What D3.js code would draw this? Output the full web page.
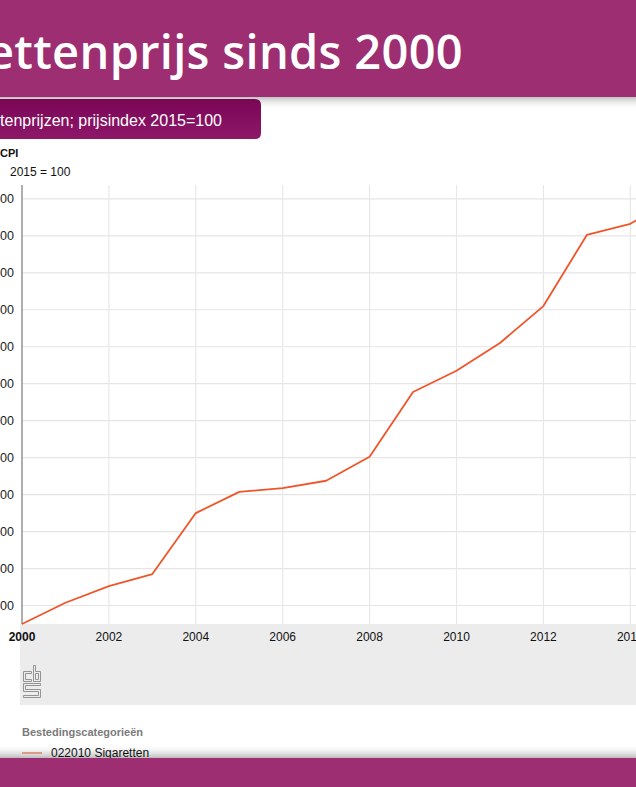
<!DOCTYPE html>
<html>
<head>
<meta charset="utf-8">
<script src="https://cdn.jsdelivr.net/npm/d3@7"></script>
<style>
  html, body { margin: 0; padding: 0; background: #fff; overflow: hidden; }
  svg { display: block; }
</style>
</head>
<body>
<svg id="chart" width="636" height="787"></svg>
<script>
// data (CPI cigarettes, 2015 = 100)
const years = [2000, 2001, 2002, 2003, 2004, 2005, 2006, 2007, 2008, 2009, 2010, 2011, 2012, 2013, 2014, 2015];
const cigarettes = [54.0, 56.3, 58.1, 59.4, 66.0, 68.3, 68.7, 69.5, 72.1, 79.1, 81.4, 84.4, 88.4, 96.1, 97.3, 100.0];
const yTicks = [56, 60, 64, 68, 72, 76, 80, 84, 88, 92, 96, 100];
const xTicks = [2000, 2002, 2004, 2006, 2008, 2010, 2012, 2014];

const titleText = 'Sigarettenprijs sinds 2000';
const subtitleText = 'Consumentenprijzen; prijsindex 2015=100';
const legendTitle = 'Bestedingscategorieën';
const seriesName = '022010 Sigaretten';

const W = 636, H = 787;
const svg = d3.select('#chart');
const defs = svg.append('defs');

// shadows under the banner and above the footer
const shadowTop = defs.append('linearGradient').attr('id', 'shadowTop')
  .attr('x1', 0).attr('y1', 0).attr('x2', 0).attr('y2', 1);
shadowTop.append('stop').attr('offset', 0).attr('stop-color', '#999').attr('stop-opacity', 0.7);
shadowTop.append('stop').attr('offset', 1).attr('stop-color', '#fff').attr('stop-opacity', 0);

const shadowBottom = defs.append('linearGradient').attr('id', 'shadowBottom')
  .attr('x1', 0).attr('y1', 0).attr('x2', 0).attr('y2', 1);
shadowBottom.append('stop').attr('offset', 0).attr('stop-color', '#fff').attr('stop-opacity', 0);
shadowBottom.append('stop').attr('offset', 1).attr('stop-color', '#aaa').attr('stop-opacity', 0.8);

const subGrad = defs.append('linearGradient').attr('id', 'subGrad')
  .attr('x1', 0).attr('y1', 0).attr('x2', 0).attr('y2', 1);
subGrad.append('stop').attr('offset', 0).attr('stop-color', '#7a0656');
subGrad.append('stop').attr('offset', 1).attr('stop-color', '#8e1768');

// chart area
const margin = { left: 22, top: 185, bottom: 624 };
const x = d3.scaleLinear().domain([2000, 2001]).range([margin.left, margin.left + 43.45]);
const y = d3.scaleLinear().domain([54, 101.5]).range([margin.bottom, margin.top]);

const nl = d3.formatLocale({ decimal: ',', thousands: '.', grouping: [3], currency: ['€', ''] });
const fmt = nl.format('.2f');

// grey band under the plot
svg.append('rect')
  .attr('x', 20).attr('y', margin.bottom)
  .attr('width', W - 20).attr('height', 705 - margin.bottom)
  .attr('fill', '#ececec');

// horizontal gridlines
svg.append('g')
  .selectAll('line')
  .data(yTicks)
  .join('line')
  .attr('x1', margin.left).attr('x2', W)
  .attr('y1', d => y(d)).attr('y2', d => y(d))
  .attr('stroke', '#e5e5e5').attr('stroke-width', 1.2);

// vertical gridlines
svg.append('g')
  .selectAll('line')
  .data(xTicks.slice(1))
  .join('line')
  .attr('x1', d => x(d)).attr('x2', d => x(d))
  .attr('y1', margin.top).attr('y2', margin.bottom)
  .attr('stroke', '#e8e8e8').attr('stroke-width', 1.2);

// y tick labels
svg.append('g')
  .selectAll('text')
  .data(yTicks)
  .join('text')
  .attr('x', 14).attr('y', d => y(d) + 4)
  .attr('text-anchor', 'end')
  .attr('font-family', 'Liberation Sans, Arial, sans-serif')
  .attr('font-size', 12.5)
  .attr('fill', '#222')
  .text(d => fmt(d));

// y axis line
svg.append('line')
  .attr('x1', margin.left).attr('x2', margin.left)
  .attr('y1', margin.top).attr('y2', margin.bottom)
  .attr('stroke', '#9a9a9a').attr('stroke-width', 1.6);

// x tick labels
svg.append('g')
  .selectAll('text')
  .data(xTicks)
  .join('text')
  .attr('x', d => x(d)).attr('y', 641)
  .attr('text-anchor', 'middle')
  .attr('font-family', 'Liberation Sans, Arial, sans-serif')
  .attr('font-size', 12)
  .attr('font-weight', (d, i) => i === 0 ? 'bold' : 'normal')
  .attr('fill', '#111')
  .text(d => d);

// the series line
const line = d3.line()
  .x((d, i) => x(years[i]))
  .y(d => y(d));

svg.append('path')
  .datum(cigarettes)
  .attr('d', line)
  .attr('fill', 'none')
  .attr('stroke', '#f0552a')
  .attr('stroke-width', 1.8)
  .attr('stroke-linejoin', 'round');

// axis captions
svg.append('text')
  .attr('x', 0).attr('y', 157)
  .attr('font-family', 'Liberation Sans, Arial, sans-serif')
  .attr('font-size', 11).attr('font-weight', 'bold')
  .attr('fill', '#111')
  .text('CPI');

svg.append('text')
  .attr('x', 10).attr('y', 176)
  .attr('font-family', 'Liberation Sans, Arial, sans-serif')
  .attr('font-size', 12)
  .attr('fill', '#111')
  .text('2015 = 100');

// cbs logo (outline drawing)
const logo = svg.append('g')
  .attr('transform', 'translate(23.5,665.5)')
  .attr('fill', 'none')
  .attr('stroke', '#8a8a8a')
  .attr('stroke-width', 0.9);
logo.append('path').attr('d', 'M0,6 H8 V8 H2 V14 H8 V16 H0 Z');
logo.append('path').attr('d', 'M10,0 H12 V6 H17 V16 H10 Z M12,8 V14 H15 V8 Z');
logo.append('path').attr('d', 'M0,18 H17 V20 H2 V24 H17 V32 H0 V30 H15 V26 H0 Z');

// legend
svg.append('text')
  .attr('x', 22).attr('y', 736)
  .attr('font-family', 'Liberation Sans, Arial, sans-serif')
  .attr('font-size', 11).attr('font-weight', 'bold')
  .attr('fill', '#7a7a7a')
  .text(legendTitle);

svg.append('line')
  .attr('x1', 22).attr('x2', 42)
  .attr('y1', 753).attr('y2', 753)
  .attr('stroke', '#f0552a').attr('stroke-width', 1.8);

// footer shadow and bar
svg.append('rect')
  .attr('x', 0).attr('y', 744).attr('width', W).attr('height', 14)
  .attr('fill', 'url(#shadowBottom)');

svg.append('text')
  .attr('x', 51).attr('y', 757)
  .attr('font-family', 'Liberation Sans, Arial, sans-serif')
  .attr('font-size', 12)
  .attr('fill', '#111')
  .text(seriesName);

svg.append('rect')
  .attr('x', 0).attr('y', 758).attr('width', W).attr('height', H - 758)
  .attr('fill', '#9c2e71');

// banner
svg.append('rect')
  .attr('x', 0).attr('y', 96).attr('width', W).attr('height', 14)
  .attr('fill', 'url(#shadowTop)');

svg.append('rect')
  .attr('x', 0).attr('y', 0).attr('width', W).attr('height', 97)
  .attr('fill', '#9c2e71');

svg.append('text')
  .attr('x', 463).attr('y', 69)
  .attr('text-anchor', 'end')
  .attr('font-family', 'Open Sans, Noto Sans, sans-serif')
  .attr('font-size', 47)
  .attr('font-weight', 600)
  .attr('letter-spacing', 0.3)
  .attr('fill', '#fff')
  .text(titleText);

// subtitle tab
svg.append('path')
  .attr('d', 'M-10,99 H255 Q261,99 261,105 V133 Q261,139 255,139 H-10 Z')
  .attr('fill', 'url(#subGrad)');

svg.append('text')
  .attr('x', 222).attr('y', 126)
  .attr('text-anchor', 'end')
  .attr('font-family', 'Liberation Sans, Arial, sans-serif')
  .attr('font-size', 16)
  .attr('fill', '#fff')
  .text(subtitleText);
</script>
</body>
</html>
